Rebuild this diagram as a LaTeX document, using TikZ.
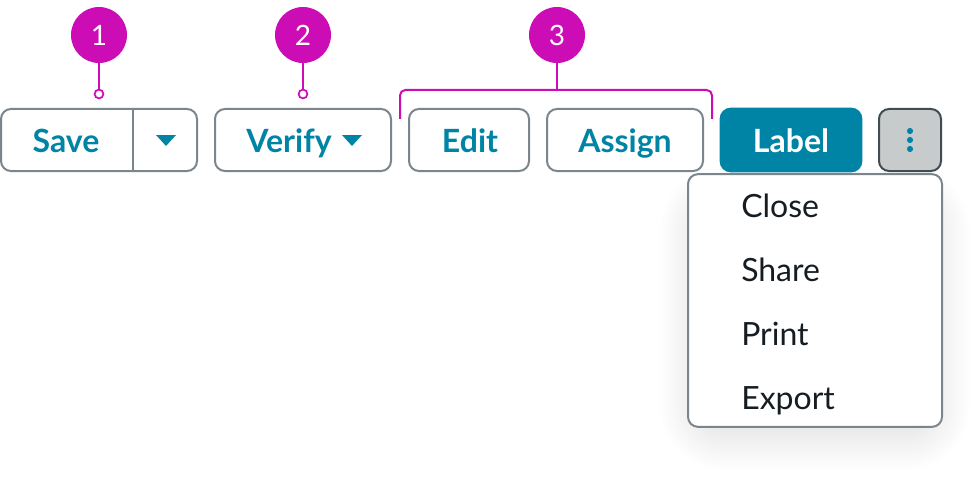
\documentclass[tikz,border=0pt]{standalone}
\usepackage{fontspec}
\setmainfont{Lato}
\definecolor{teal}{HTML}{0084A6}
\definecolor{mag}{HTML}{CC0CB4}
\definecolor{edge}{HTML}{7B868C}
\definecolor{ink}{HTML}{161D22}
\definecolor{greyfill}{HTML}{C7CBCC}
\definecolor{darkedge}{HTML}{414C52}
\tikzset{
  x=0.75pt,y=-0.75pt,
  btn/.style={draw=edge,line width=1.5pt,rounded corners=7.5pt,fill=white,inner sep=0pt,minimum height=46.5pt},
  btntext/.style={text=teal,inner sep=0pt,anchor=base,font=\fontsize{24pt}{28pt}\bfseries},
  menutext/.style={text=ink,inner sep=0pt,anchor=base west,font=\fontsize{24pt}{28pt}\selectfont},
  badge/.style={circle,fill=mag,text=white,inner sep=0pt,minimum size=42pt,font=\fontsize{21pt}{25pt}\selectfont},
  pin/.style={circle,draw=mag,fill=white,line width=1.3pt,inner sep=0pt,minimum size=6.6pt},
  lead/.style={draw=mag,line width=1.5pt},
  caret/.style={fill=teal},
  dotk/.style={circle,fill=teal,inner sep=0pt,minimum size=4.6pt},
}
\begin{document}
\begin{tikzpicture}
\useasboundingbox (0,0) rectangle (975,485);
% menu shadow: stacked translucent rounded plates
\foreach \g in {-24,-22,...,30}{
  \pgfmathsetmacro{\rr}{(\g+34)*0.75}
  \fill[black,fill opacity=0.0032,rounded corners=\rr pt]
    ({690-\g},{196-\g}) rectangle ({940+\g},{440+\g});
}
% buttons
\node[btn,minimum width=147pt] (save) at (99,140) {};
\node[btn,minimum width=132pt] (verify) at (303,140) {};
\node[btn,minimum width=90pt] (edit) at (469,140) {};
\node[btn,minimum width=117pt] (assign) at (625,140) {};
\node[btn,draw=teal,fill=teal,minimum width=105.5pt,minimum height=47pt] (label) at (791,140) {};
\node[btn,draw=darkedge,fill=greyfill,minimum width=46.5pt] (more) at (910,140) {};
\node[btn,minimum width=190.5pt,minimum height=189.5pt] (menu) at (815,300.5) {};
% split
\coordinate (splittop) at (133,109);
\coordinate (splitbot) at (133,171);
\draw[edge,line width=1.5pt] (splittop) -- (splitbot);
% labels
\node[btntext] (tsave) at (66,152) {Save};
\node[btntext] (tverify) at (289,152) {Verify};
\node[btntext] (tedit) at (470,152) {Edit};
\node[btntext] (tassign) at (625,152) {Assign};
\node[btntext,text=white] (tlabel) at (791,152) {Label};
\fill[caret] (156,135) -- (176,135) -- (166,146) -- cycle;
\fill[caret] (342,135) -- (362,135) -- (352,146) -- cycle;
\node[dotk] (d1) at (910,131) {};
\node[dotk] (d2) at (910,140) {};
\node[dotk] (d3) at (910,149) {};
% menu
\node[menutext] (m1) at (741,217) {Close};
\node[menutext] (m2) at (741,281) {Share};
\node[menutext] (m3) at (741,345) {Print};
\node[menutext] (m4) at (741,409) {Export};
% callouts
\node[badge] (b1) at (99,35) {1};
\node[badge] (b2) at (303,35) {2};
\node[badge] (b3) at (557,35) {3};
\node[pin] (p1) at (99,94) {};
\node[pin] (p2) at (303,94) {};
\draw[lead] (b1) -- (p1);
\draw[lead] (b2) -- (p2);
\coordinate (bl) at (400,119);
\coordinate (br) at (712,119);
\coordinate (bm) at (557,90);
\draw[lead,rounded corners=4pt] (bl) -- (400,90) -- (712,90) -- (br);
\draw[lead] (b3) -- (bm);
\end{tikzpicture}
\end{document}
